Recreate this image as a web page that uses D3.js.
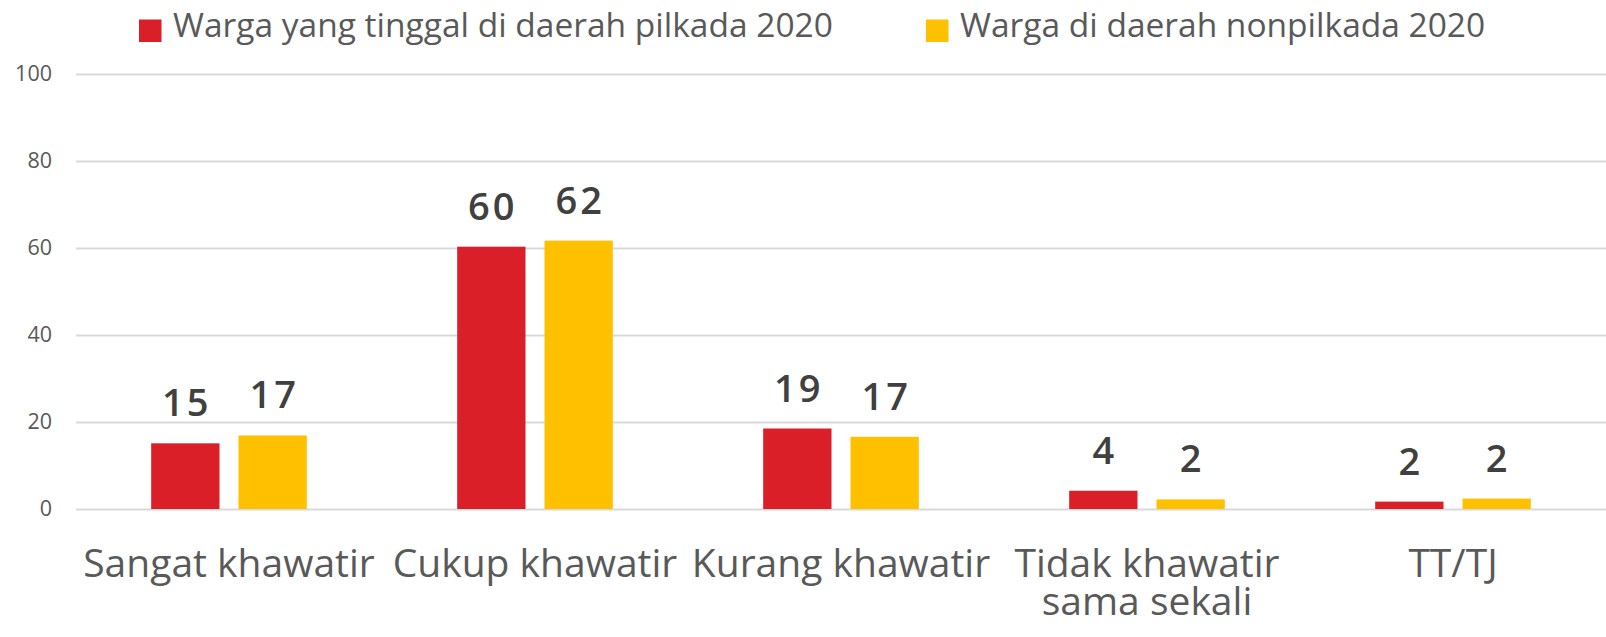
<!DOCTYPE html>
<html>
<head>
<meta charset="utf-8">
<script src="https://cdn.jsdelivr.net/npm/d3@7"></script>
<style>
  html, body { margin: 0; padding: 0; background: #ffffff; }
  svg { display: block; font-family: 'Open Sans', sans-serif; }
</style>
</head>
<body>
<div id="chart"></div>
<script>
// chart data
const categories = ['Sangat khawatir', 'Cukup khawatir', 'Kurang khawatir', 'Tidak khawatir sama sekali', 'TT/TJ'];
const seriesNames = ['Warga yang tinggal di daerah pilkada 2020', 'Warga di daerah nonpilkada 2020'];
const pilkadaValues = [15.1, 60.3, 18.5, 4.2, 1.7];
const nonpilkadaValues = [16.9, 61.7, 16.6, 2.2, 2.4];
const pilkadaLabels = [15, 60, 19, 4, 2];
const nonpilkadaLabels = [17, 62, 17, 2, 2];
const yTicks = [0, 20, 40, 60, 80, 100];
const colors = ['#da1f29', '#ffc000'];

const width = 1606;
const height = 637;
const paddingLeft = 76;
const paddingRight = 0;
const yTop = 74;
const yBottom = 509;

const svg = d3.select('#chart')
  .append('svg')
  .attr('width', width)
  .attr('height', height);

svg.append('rect').attr('width', width).attr('height', height).attr('fill', '#ffffff');

// scales
const x0 = d3.scaleBand()
  .domain(categories)
  .range([paddingLeft, width - paddingRight])
  .paddingInner(0)
  .paddingOuter(0);

const x1 = d3.scaleBand()
  .domain(seriesNames)
  .range([0, x0.bandwidth()])
  .paddingInner(0.2176)
  .paddingOuter(0.861);

const y = d3.scaleLinear().domain([0, 100]).range([yBottom, yTop]);

// gridlines + y labels
const yAxis = d3.axisLeft(y)
  .tickValues(yTicks)
  .tickSize(-(width - paddingRight - paddingLeft))
  .tickPadding(24);

const gy = svg.append('g')
  .attr('class', 'y-axis')
  .attr('transform', `translate(${paddingLeft}, 0)`)
  .call(yAxis);
gy.select('.domain').remove();
gy.selectAll('.tick line').attr('stroke', '#d9d9d9').attr('stroke-width', 2);
gy.selectAll('.tick text')
  .attr('fill', '#595959')
  .style('font-size', '21.5px')
  .style('font-family', "'Open Sans', sans-serif");

// bars
const data = categories.map((c, i) => ({
  category: c,
  values: [
    { series: seriesNames[0], value: pilkadaValues[i], label: pilkadaLabels[i], color: colors[0] },
    { series: seriesNames[1], value: nonpilkadaValues[i], label: nonpilkadaLabels[i], color: colors[1] }
  ]
}));

const groups = svg.append('g')
  .selectAll('g')
  .data(data)
  .join('g')
  .attr('transform', (d) => `translate(${x0(d.category)}, 0)`);

groups.selectAll('rect')
  .data((d) => d.values)
  .join('rect')
  .attr('x', (d) => x1(d.series))
  .attr('y', (d) => y(d.value))
  .attr('width', x1.bandwidth())
  .attr('height', (d) => y(0) - y(d.value))
  .attr('fill', (d) => d.color);

groups.selectAll('text')
  .data((d) => d.values)
  .join('text')
  .attr('x', (d) => x1(d.series) + x1.bandwidth() / 2 + 1.5)
  .attr('y', (d) => y(d.value) - 27)
  .attr('text-anchor', 'middle')
  .attr('fill', '#404040')
  .style('font-size', '38px')
  .style('font-weight', 600)
  .style('letter-spacing', '3px')
  .text((d) => d.label);

// category labels: split into lines that fit the band, one text per line
const wrapWidth = x0.bandwidth() + 20;
const measure = svg.append('text').style('font-size', '39px');
function splitLines(label) {
  const lines = [];
  let line = [];
  label.split(' ').forEach((w) => {
    line.push(w);
    measure.text(line.join(' '));
    if (measure.node().getComputedTextLength() > wrapWidth && line.length > 1) {
      line.pop();
      lines.push(line.join(' '));
      line = [w];
    }
  });
  lines.push(line.join(' '));
  return lines;
}
const catLines = [];
categories.forEach((c) => {
  splitLines(c).forEach((l, i) => catLines.push({ category: c, text: l, row: i }));
});
measure.remove();

svg.append('g')
  .selectAll('text')
  .data(catLines)
  .join('text')
  .attr('x', (d) => x0(d.category) + x0.bandwidth() / 2)
  .attr('y', (d) => 577 + d.row * 38)
  .attr('text-anchor', 'middle')
  .attr('fill', '#595959')
  .style('font-size', '39px')
  .text((d) => d.text);

// legend
const legendX = [139, 926];
const legend = svg.append('g')
  .selectAll('g')
  .data(seriesNames)
  .join('g')
  .attr('transform', (d, i) => `translate(${legendX[i]}, 0)`);

legend.append('rect')
  .attr('x', 0)
  .attr('y', 19.5)
  .attr('width', 22.5)
  .attr('height', 22.5)
  .attr('fill', (d, i) => colors[i]);

legend.append('text')
  .attr('x', 34)
  .attr('y', 37)
  .attr('fill', '#595959')
  .style('font-size', '33.5px')
  .text((d) => d);
</script>
</body>
</html>
